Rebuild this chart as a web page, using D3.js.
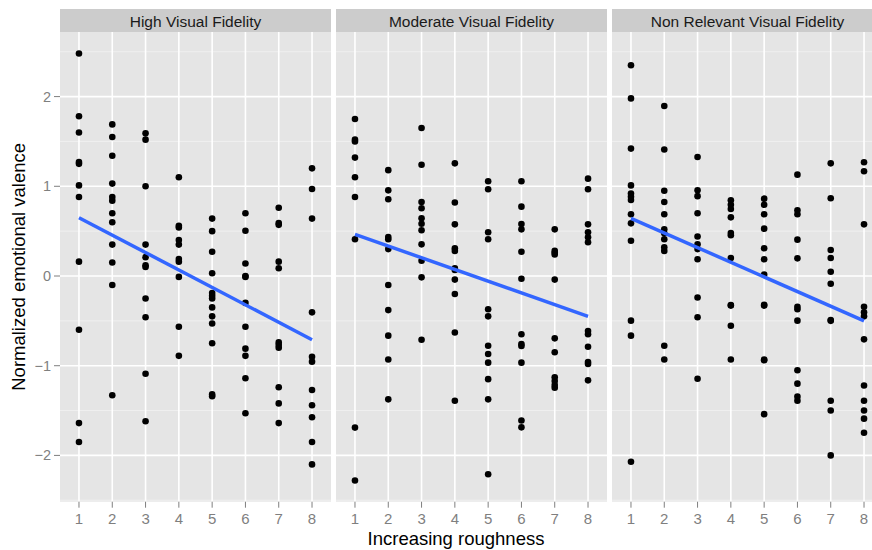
<!DOCTYPE html>
<html>
<head>
<meta charset="utf-8">
<script src="https://cdn.jsdelivr.net/npm/d3@7"></script>
<style>
  body { margin: 0; background: #fff; }
  text { font-family: "Liberation Sans", Arial, sans-serif; }
</style>
</head>
<body>
<script>
// panel titles
const panels = ["High Visual Fidelity", "Moderate Visual Fidelity", "Non Relevant Visual Fidelity"];
const roughness = [1, 2, 3, 4, 5, 6, 7, 8];
const yTicks = [-2, -1, 0, 1, 2];

// valence per roughness level (index 0 -> roughness 1)
const highFidelity = [
  [2.48, 1.78, 1.60, 1.27, 1.25, 1.01, 0.88, 0.16, -0.60, -1.64, -1.85],
  [1.69, 1.55, 1.34, 1.03, 0.88, 0.84, 0.70, 0.60, 0.35, 0.15, -0.10, -1.33],
  [1.59, 1.52, 1.00, 0.35, 0.21, 0.12, 0.10, -0.25, -0.46, -1.09, -1.62],
  [1.10, 0.56, 0.54, 0.40, 0.35, 0.19, 0.16, -0.01, -0.565, -0.89],
  [0.64, 0.50, 0.27, 0.03, -0.19, -0.22, -0.25, -0.35, -0.45, -0.53, -0.75, -1.32, -1.34],
  [0.70, 0.505, 0.14, 0.0, -0.01, -0.30, -0.565, -0.81, -0.89, -1.14, -1.53],
  [0.76, 0.59, 0.57, 0.16, 0.086, -0.74, -0.77, -0.80, -1.24, -1.42, -1.64],
  [1.20, 0.97, 0.64, -0.405, -0.90, -0.955, -1.27, -1.44, -1.575, -1.85, -2.10]
];
const moderateFidelity = [
  [1.75, 1.52, 1.50, 1.32, 1.10, 0.88, 0.41, -1.69, -2.28],
  [1.18, 0.955, 0.855, 0.435, 0.41, 0.30, -0.10, -0.38, -0.665, -0.93, -1.375],
  [1.65, 1.24, 0.825, 0.755, 0.643, 0.583, 0.51, 0.353, 0.17, -0.015, -0.71],
  [1.256, 0.82, 0.576, 0.31, 0.28, 0.085, 0.067, -0.04, -0.20, -0.63, -1.39],
  [1.056, 0.967, 0.487, 0.41, -0.37, -0.45, -0.777, -0.87, -0.966, -1.15, -1.375, -2.21],
  [1.056, 0.773, 0.58, 0.52, 0.27, -0.03, -0.65, -0.758, -0.78, -0.966, -1.61, -1.687],
  [0.52, 0.28, 0.26, 0.24, -0.04, -0.695, -0.85, -1.13, -1.17, -1.215, -1.245],
  [1.085, 0.967, 0.576, 0.487, 0.431, 0.376, -0.613, -0.65, -0.788, -0.96, -0.98, -1.163]
];
const nonRelevantFidelity = [
  [2.35, 1.98, 1.42, 1.01, 0.92, 0.884, 0.847, 0.688, 0.587, 0.393, -0.498, -0.665, -2.07],
  [1.895, 1.41, 0.95, 0.825, 0.688, 0.52, 0.476, 0.41, 0.32, 0.28, -0.777, -0.93],
  [1.327, 0.955, 0.89, 0.70, 0.44, 0.353, 0.30, 0.186, -0.24, -0.46, -1.145],
  [0.844, 0.795, 0.747, 0.654, 0.48, 0.454, 0.20, -0.323, -0.33, -0.554, -0.93],
  [0.862, 0.795, 0.688, 0.528, 0.31, 0.186, 0.015, -0.32, -0.33, -0.93, -0.94, -1.54],
  [1.13, 0.732, 0.688, 0.405, 0.197, -0.342, -0.37, -0.498, -1.05, -1.20, -1.345, -1.39],
  [1.256, 0.866, 0.29, 0.20, 0.048, -0.086, -0.49, -0.50, -1.39, -1.50, -2.00],
  [1.268, 1.167, 0.576, -0.342, -0.405, -0.45, -0.706, -1.22, -1.39, -1.50, -1.59, -1.747]
];
// fitted lm line, value at roughness 1 and 8
const fitStart = [0.65, 0.465, 0.643];
const fitEnd = [-0.71, -0.45, -0.50];

const allData = [highFidelity, moderateFidelity, nonRelevantFidelity];

const W = 872, H = 550;
const panelLeft = [60, 336, 612];
const panelW = 271;
const stripTop = 9, plotTop = 32, plotBottom = 501.7;

var svg = d3.select("body").append("svg")
  .attr("width", W)
  .attr("height", H);

var x = d3.scaleLinear().domain([0.43, 8.57]).range([0, panelW]);
var y = d3.scaleLinear().domain([-2.516, 2.72]).range([plotBottom, plotTop]);

var minorY = [-2.5, -1.5, -0.5, 0.5, 1.5, 2.5];

panels.forEach(function(title, p) {
  var g = svg.append("g").attr("transform", "translate(" + panelLeft[p] + ",0)");

  // strip
  g.append("rect")
    .attr("x", 0).attr("y", stripTop)
    .attr("width", panelW).attr("height", plotTop - stripTop)
    .attr("fill", "#cccccc");
  g.append("text")
    .attr("x", panelW / 2).attr("y", 26.5)
    .attr("text-anchor", "middle")
    .attr("font-size", 15.5)
    .attr("fill", "#1a1a1a")
    .text(title);

  // panel background
  g.append("rect")
    .attr("x", 0).attr("y", plotTop)
    .attr("width", panelW).attr("height", plotBottom - plotTop)
    .attr("fill", "#e5e5e5");

  g.selectAll(".minor").data(minorY).enter().append("line")
    .attr("x1", 0).attr("x2", panelW)
    .attr("y1", d => y(d)).attr("y2", d => y(d))
    .attr("stroke", "#f2f2f2").attr("stroke-width", 0.8);

  g.selectAll(".majorY").data(yTicks).enter().append("line")
    .attr("x1", 0).attr("x2", panelW)
    .attr("y1", d => y(d)).attr("y2", d => y(d))
    .attr("stroke", "#ffffff").attr("stroke-width", 1.6);

  g.selectAll(".majorX").data(roughness).enter().append("line")
    .attr("y1", plotTop).attr("y2", plotBottom)
    .attr("x1", d => x(d)).attr("x2", d => x(d))
    .attr("stroke", "#ffffff").attr("stroke-width", 1.6);

  // x axis ticks and labels
  g.selectAll(".xt").data(roughness).enter().append("line")
    .attr("x1", d => x(d)).attr("x2", d => x(d))
    .attr("y1", plotBottom).attr("y2", plotBottom + 6)
    .attr("stroke", "#7f7f7f").attr("stroke-width", 1);
  g.selectAll(".xl").data(roughness).enter().append("text")
    .attr("x", d => x(d)).attr("y", plotBottom + 22.5)
    .attr("text-anchor", "middle")
    .attr("font-size", 15)
    .attr("fill", "#7f7f7f")
    .text(d => d);

  // points
  var pts = [];
  allData[p].forEach(function(vals, i) {
    vals.forEach(function(v) { pts.push({ r: roughness[i], v: v }); });
  });
  g.selectAll("circle").data(pts).enter().append("circle")
    .attr("cx", d => x(d.r))
    .attr("cy", d => y(d.v))
    .attr("r", 3.3)
    .attr("fill", "#000");

  // lm fit
  g.append("line")
    .attr("x1", x(1)).attr("y1", y(fitStart[p]))
    .attr("x2", x(8)).attr("y2", y(fitEnd[p]))
    .attr("stroke", "#3366ff")
    .attr("stroke-width", 3.5);
});

// y axis
var ya = svg.append("g");
ya.selectAll("line").data(yTicks).enter().append("line")
  .attr("x1", panelLeft[0] - 6).attr("x2", panelLeft[0])
  .attr("y1", d => y(d)).attr("y2", d => y(d))
  .attr("stroke", "#7f7f7f");
ya.selectAll("text").data(yTicks).enter().append("text")
  .attr("x", panelLeft[0] - 9).attr("y", d => y(d) + 5)
  .attr("text-anchor", "end")
  .attr("font-size", 14.5)
  .attr("fill", "#7f7f7f")
  .text(d => d < 0 ? "\u2212" + Math.abs(d) : d);

// axis titles
svg.append("text")
  .attr("x", 456).attr("y", 545)
  .attr("text-anchor", "middle")
  .attr("font-size", 18.5)
  .attr("fill", "#000")
  .text("Increasing roughness");

svg.append("text")
  .attr("transform", "translate(25," + ((plotTop + plotBottom) / 2) + ") rotate(-90)")
  .attr("text-anchor", "middle")
  .attr("font-size", 18.5)
  .attr("fill", "#000")
  .text("Normalized emotional valence");
</script>
</body>
</html>
